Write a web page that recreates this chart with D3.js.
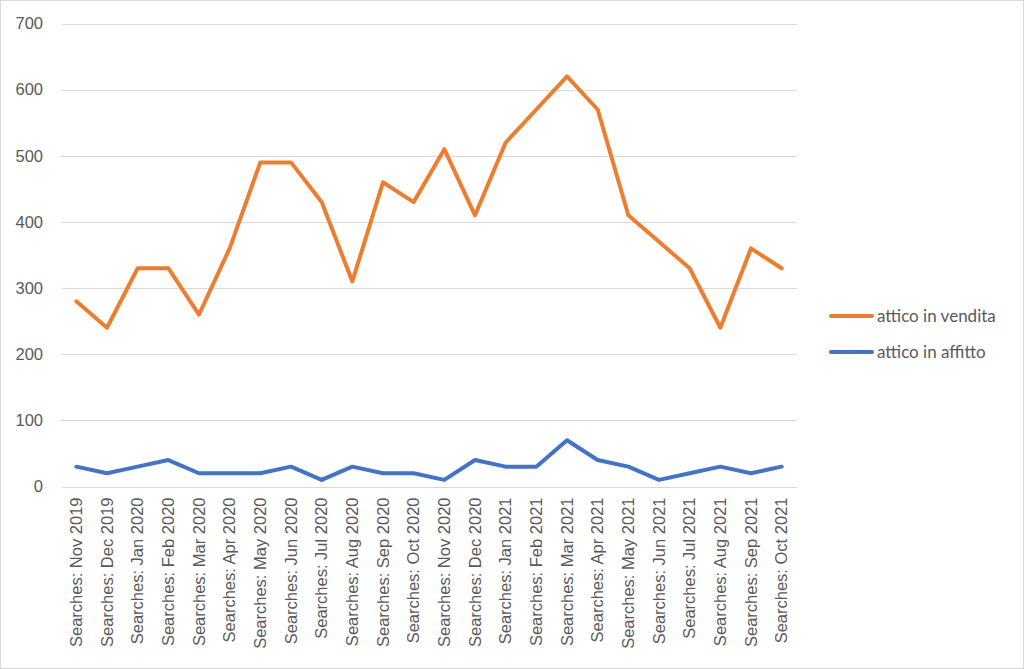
<!DOCTYPE html>
<html>
<head>
<meta charset="utf-8">
<script src="https://cdn.jsdelivr.net/npm/d3@7"></script>
<style>
  html, body { margin: 0; padding: 0; background: #fff; }
  svg { display: block; font-family: Lato, "Noto Sans", sans-serif; }
</style>
</head>
<body>
<div id="chart"></div>
<script>
// Categories and series values
const months = [
    'Nov 2019', 'Dec 2019', 'Jan 2020', 'Feb 2020', 'Mar 2020', 'Apr 2020',
    'May 2020', 'Jun 2020', 'Jul 2020', 'Aug 2020', 'Sep 2020', 'Oct 2020',
    'Nov 2020', 'Dec 2020', 'Jan 2021', 'Feb 2021', 'Mar 2021', 'Apr 2021',
    'May 2021', 'Jun 2021', 'Jul 2021', 'Aug 2021', 'Sep 2021', 'Oct 2021'
];
const categories = months.map(m => 'Searches: ' + m);
const vendita = [280, 240, 330, 330, 260, 360, 490, 490, 430, 310, 460, 430,
                 510, 410, 520, 570, 620, 570, 410, 370, 330, 240, 360, 330];
const affitto = [30, 20, 30, 40, 20, 20, 20, 30, 10, 30, 20, 20,
                 10, 40, 30, 30, 70, 40, 30, 10, 20, 30, 20, 30];
const yTicks = [0, 100, 200, 300, 400, 500, 600, 700];

const series = [
    { name: 'attico in vendita', values: vendita, color: '#ED7D31' },
    { name: 'attico in affitto', values: affitto, color: '#4472C4' }
];

const width = 1024;
const height = 669;
const plot = { left: 61, right: 797, top: 23.5, bottom: 486.5 };

const svg = d3.select('#chart')
    .append('svg')
    .attr('width', width)
    .attr('height', height);

// Outer chart border
svg.append('rect')
    .attr('x', 0.5).attr('y', 0.5)
    .attr('width', width - 1).attr('height', height - 1)
    .attr('fill', '#fff')
    .attr('stroke', '#d9d9d9');

const x = d3.scaleBand()
    .domain(categories)
    .range([plot.left, plot.right])
    .padding(0);

const y = d3.scaleLinear()
    .domain([0, 700])
    .range([plot.bottom, plot.top]);

// Gridlines
svg.append('g')
    .selectAll('line')
    .data(yTicks)
    .enter().append('line')
    .attr('x1', plot.left)
    .attr('x2', plot.right)
    .attr('y1', d => Math.round(y(d)) + 0.5)
    .attr('y2', d => Math.round(y(d)) + 0.5)
    .attr('stroke', '#d9d9d9')
    .attr('stroke-width', 1);

// Y axis labels
const yAxis = svg.append('g')
    .attr('transform', `translate(${plot.left},0)`)
    .call(d3.axisLeft(y).tickValues(yTicks).tickSize(0).tickPadding(18));
yAxis.select('.domain').remove();
yAxis.selectAll('text')
    .attr('fill', '#595959')
    .style('font-size', '16.5px');

// X axis labels (rotated)
const xAxis = svg.append('g')
    .attr('transform', `translate(0,${plot.bottom})`)
    .call(d3.axisBottom(x).tickSize(0));
xAxis.select('.domain').remove();
xAxis.selectAll('text')
    .attr('fill', '#595959')
    .style('font-size', '16.5px')
    .attr('text-anchor', 'end')
    .attr('transform', 'rotate(-90)')
    .attr('x', -11)
    .attr('y', 0)
    .attr('dy', '0.35em');

// Lines
const line = d3.line()
    .x((d, i) => x(categories[i]) + x.bandwidth() / 2)
    .y(d => y(d));

svg.append('g')
    .selectAll('path')
    .data(series)
    .enter().append('path')
    .attr('d', d => line(d.values))
    .attr('fill', 'none')
    .attr('stroke', d => d.color)
    .attr('stroke-width', 4)
    .attr('stroke-linejoin', 'round')
    .attr('stroke-linecap', 'round');

// Legend
const legend = svg.append('g')
    .selectAll('g')
    .data(series)
    .enter().append('g')
    .attr('transform', (d, i) => `translate(831,${316 + i * 36})`);

legend.append('line')
    .attr('x1', 0).attr('x2', 41)
    .attr('y1', 0).attr('y2', 0)
    .attr('stroke', d => d.color)
    .attr('stroke-width', 4)
    .attr('stroke-linecap', 'round');

legend.append('text')
    .attr('x', 46)
    .attr('y', 0)
    .attr('dy', '0.35em')
    .attr('fill', '#595959')
    .style('font-size', '17px')
    .text(d => d.name);
</script>
</body>
</html>
